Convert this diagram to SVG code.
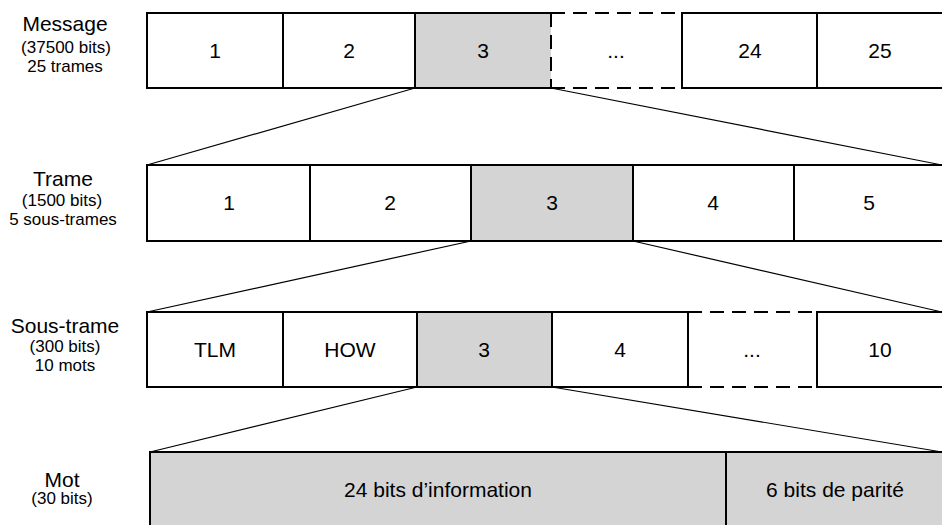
<svg xmlns="http://www.w3.org/2000/svg" width="942" height="525" viewBox="0 0 942 525">
<style>
.bg{fill:#fff}
.c{fill:#fff;stroke:#000;stroke-width:2}
.s{fill:#d4d4d4;stroke:#000;stroke-width:2}
.sf{fill:#d4d4d4;stroke:none}
.ln{stroke:#000;stroke-width:2;fill:none}
.dash{stroke:#000;stroke-width:2;fill:none;stroke-dasharray:14 8}
.conn{stroke:#000;stroke-width:1.2;fill:none}
text{font-family:"Liberation Sans",Arial,sans-serif;fill:#000;text-anchor:middle}
.t{font-size:21px}
.h{font-size:21px}
.sub{font-size:17px}
</style>
<rect class="bg" x="0" y="0" width="942" height="525"/>
<g id="connectors">
<line class="conn" x1="415" y1="88" x2="147" y2="165"/>
<line class="conn" x1="551" y1="88" x2="942" y2="165"/>
<line class="conn" x1="471" y1="241" x2="147" y2="312"/>
<line class="conn" x1="633" y1="241" x2="942" y2="312"/>
<line class="conn" x1="417" y1="387" x2="150" y2="452"/>
<line class="conn" x1="552" y1="387" x2="942" y2="452"/>
</g>
<g id="label-message">
<text class="h" x="65" y="31">Message</text>
<text class="sub" x="66" y="53">(37500 bits)</text>
<text class="sub" x="65" y="72">25 trames</text>
</g>
<g id="label-trame">
<text class="h" x="63" y="186">Trame</text>
<text class="sub" x="62" y="206">(1500 bits)</text>
<text class="sub" x="63" y="225">5 sous-trames</text>
</g>
<g id="label-soustrame">
<text class="h" x="65" y="333">Sous-trame</text>
<text class="sub" x="65" y="352">(300 bits)</text>
<text class="sub" x="65" y="371">10 mots</text>
</g>
<g id="label-mot">
<text class="h" x="62" y="487">Mot</text>
<text class="sub" x="62" y="504">(30 bits)</text>
</g>
<g id="m1"><rect class="c" x="147" y="13" width="136" height="75"/><text class="t" x="215" y="58">1</text></g>
<g id="m2"><rect class="c" x="283" y="13" width="132" height="75"/><text class="t" x="349" y="58">2</text></g>
<g id="m3"><rect class="sf" x="415" y="13" width="136" height="75"/><path class="ln" d="M551,13 H415 V88 H551"/><text class="t" x="483" y="58">3</text></g>
<g id="m-ellipsis"><path class="dash" d="M551,13 H682 M551,88 H682 M551,13 V88"/><text class="t" x="616" y="58">...</text></g>
<g id="m24"><rect class="c" x="682" y="13" width="135" height="75"/><text class="t" x="750" y="58">24</text></g>
<g id="m25"><rect class="c" x="817" y="13" width="130" height="75"/><text class="t" x="880" y="58">25</text></g>
<g id="t1"><rect class="c" x="147" y="165" width="163" height="76"/><text class="t" x="229" y="210">1</text></g>
<g id="t2"><rect class="c" x="310" y="165" width="161" height="76"/><text class="t" x="390" y="210">2</text></g>
<g id="t3"><rect class="s" x="471" y="165" width="162" height="76"/><text class="t" x="552" y="210">3</text></g>
<g id="t4"><rect class="c" x="633" y="165" width="161" height="76"/><text class="t" x="713" y="210">4</text></g>
<g id="t5"><rect class="c" x="794" y="165" width="153" height="76"/><text class="t" x="869" y="210">5</text></g>
<g id="s1"><rect class="c" x="147" y="312" width="136" height="75"/><text class="t" x="215" y="357">TLM</text></g>
<g id="s2"><rect class="c" x="283" y="312" width="134" height="75"/><text class="t" x="350" y="357">HOW</text></g>
<g id="s3"><rect class="s" x="417" y="312" width="135" height="75"/><text class="t" x="484" y="357">3</text></g>
<g id="s4"><rect class="c" x="552" y="312" width="136" height="75"/><text class="t" x="620" y="357">4</text></g>
<g id="s-ellipsis"><path class="dash" d="M688,312 H817 M688,387 H817"/><text class="t" x="752" y="357">...</text></g>
<g id="s10"><rect class="c" x="817" y="312" width="130" height="75"/><text class="t" x="880" y="357">10</text></g>
<g id="w-info"><rect class="s" x="150" y="452" width="576" height="80"/><text class="t" x="438" y="497">24 bits d’information</text></g>
<g id="w-parity"><rect class="s" x="726" y="452" width="221" height="80"/><text class="t" x="835" y="497">6 bits de parité</text></g>
</svg>
